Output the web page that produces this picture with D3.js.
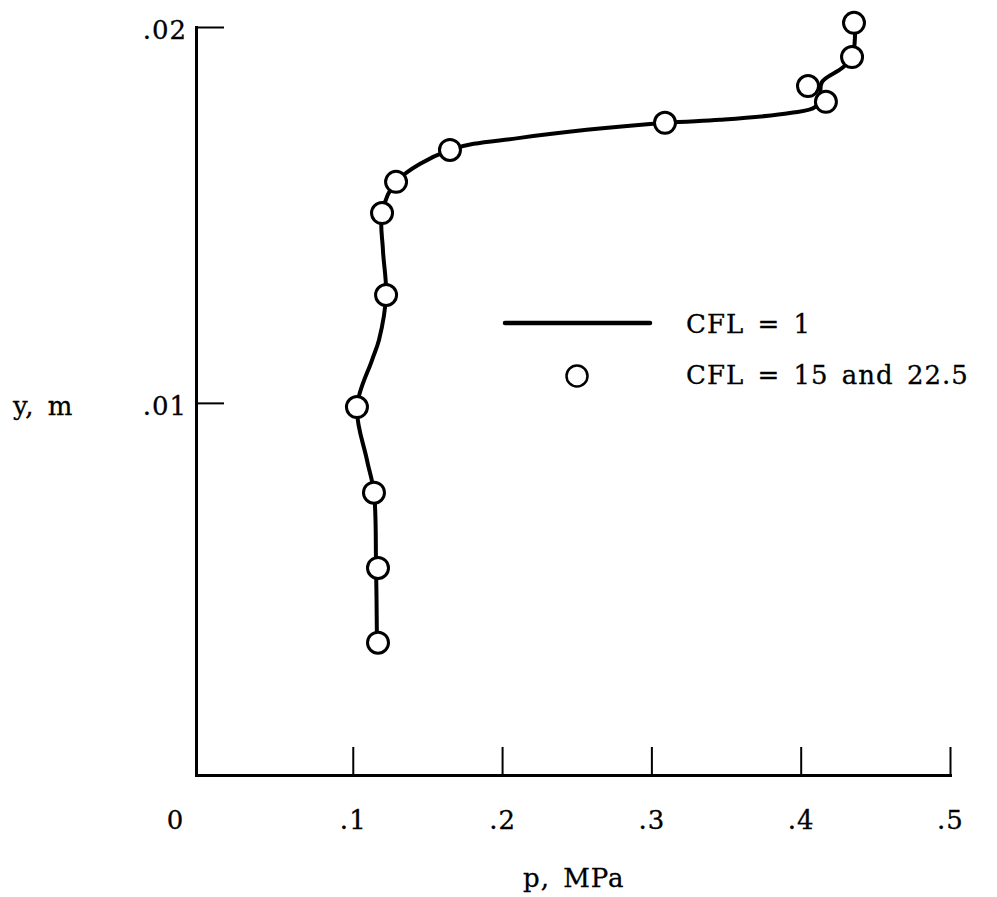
<!DOCTYPE html>
<meta charset="utf-8">
<style>
body { margin: 0; background: #fff; }
text { font-family: "DejaVu Serif", serif; font-size: 26px; letter-spacing: 1px; fill: #000; stroke: #000; stroke-width: 0.3px; }
.axis path { stroke: #000; stroke-width: 3; stroke-linecap: square; }
.axis line { stroke: #000; stroke-width: 2; }
</style>
<body>
<script src="https://cdn.jsdelivr.net/npm/d3@7"></script>
<script>

// CFL = 1 curve (bottom to top)
var lineP = [0.1162, 0.1156, 0.1142, 0.1095, 0.1028, 0.1129, 0.1176, 0.1223, 0.1202, 0.1196, 0.1290,
             0.1651, 0.2120, 0.3091, 0.3460, 0.3928, 0.4096, 0.4129, 0.4143, 0.4277, 0.4344, 0.4364];
var lineY = [0.00362, 0.00561, 0.00761, 0.00848, 0.00989, 0.01114, 0.01168, 0.01287, 0.01407, 0.01505, 0.01588,
             0.01673, 0.01705, 0.01745, 0.01753, 0.01771, 0.01787, 0.01819, 0.01854, 0.01891, 0.01920, 0.02011];

// CFL = 15 and 22.5 points
var ptP = [0.1169, 0.1169, 0.1142, 0.1028, 0.1223, 0.1196, 0.1290, 0.1651, 0.3091, 0.4169, 0.4049, 0.4344, 0.4357];
var ptY = [0.00362, 0.00561, 0.00761, 0.00989, 0.01287, 0.01505, 0.01588, 0.01673, 0.01745, 0.01801, 0.01843, 0.01920, 0.02011];

var xTicks = [0.1, 0.2, 0.3, 0.4, 0.5];
var yTicks = [0.01, 0.02];
var legendLabels = ["CFL = 1", "CFL = 15 and 22.5"];

var width = 997, height = 897;

var svg = d3.select("body").append("svg")
    .attr("width", width)
    .attr("height", height);

var x = d3.scaleLinear().domain([-0.005, 0.5]).range([196, 950]);
var y = d3.scaleLinear().domain([0.0001, 0.02]).range([775, 27]);

var noZero = function(d) { return d3.format(".2~f")(d).replace(/^0/, ""); };

// x axis, ticks pointing up into the plot
var xAxis = svg.append("g")
    .attr("class", "axis")
    .attr("transform", "translate(0," + y(0.0001) + ")")
    .call(d3.axisBottom(x).tickValues(xTicks).tickSize(-28).tickSizeOuter(0)
        .tickPadding(36).tickFormat(noZero));

xAxis.attr("font-size", null).attr("font-family", null);

// stray "0" label at the origin
xAxis.append("text")
    .attr("x", x(0) - 28)
    .attr("y", 36)
    .attr("dy", "0.71em")
    .attr("text-anchor", "middle")
    .text("0");

// y axis, ticks pointing right
var yAxis = svg.append("g")
    .attr("class", "axis")
    .attr("transform", "translate(" + x(-0.005) + ",0)")
    .call(d3.axisLeft(y).tickValues(yTicks).tickSize(-28).tickSizeOuter(0)
        .tickPadding(9).tickFormat(noZero));

yAxis.attr("font-size", null).attr("font-family", null);
yAxis.selectAll("text").attr("dy", "0.45em");

// axis titles
svg.append("text")
    .attr("x", 13)
    .attr("y", 415)
    .style("word-spacing", "4px")
    .text("y, m");

svg.append("text")
    .attr("x", 523)
    .attr("y", 887)
    .style("word-spacing", "4px")
    .text("p, MPa");

// CFL = 1 line
var line = d3.line()
    .x(function(d, i) { return x(lineP[i]); })
    .y(function(d, i) { return y(lineY[i]); })
    .curve(d3.curveCatmullRom.alpha(0.5));

svg.append("path")
    .datum(lineP)
    .attr("d", line)
    .attr("fill", "none")
    .attr("stroke", "#000")
    .attr("stroke-width", 4);

// open circles
svg.selectAll("circle.pt")
    .data(ptP)
  .enter().append("circle")
    .attr("class", "pt")
    .attr("cx", function(d) { return x(d); })
    .attr("cy", function(d, i) { return y(ptY[i]); })
    .attr("r", 10.5)
    .attr("fill", "#fff")
    .attr("stroke", "#000")
    .attr("stroke-width", 3);

// legend
var legend = svg.append("g");

legend.append("line")
    .attr("x1", 505).attr("x2", 650)
    .attr("y1", 323).attr("y2", 323)
    .attr("stroke", "#000")
    .attr("stroke-width", 4.5)
    .attr("stroke-linecap", "round");

legend.append("circle")
    .attr("cx", 577).attr("cy", 376)
    .attr("r", 10.5)
    .attr("fill", "#fff")
    .attr("stroke", "#000")
    .attr("stroke-width", 2.5);

legend.selectAll("text")
    .data(legendLabels)
  .enter().append("text")
    .attr("x", 686)
    .attr("y", function(d, i) { return 333 + i * 51; })
    .style("word-spacing", "4px")
    .text(function(d) { return d; });

</script>
